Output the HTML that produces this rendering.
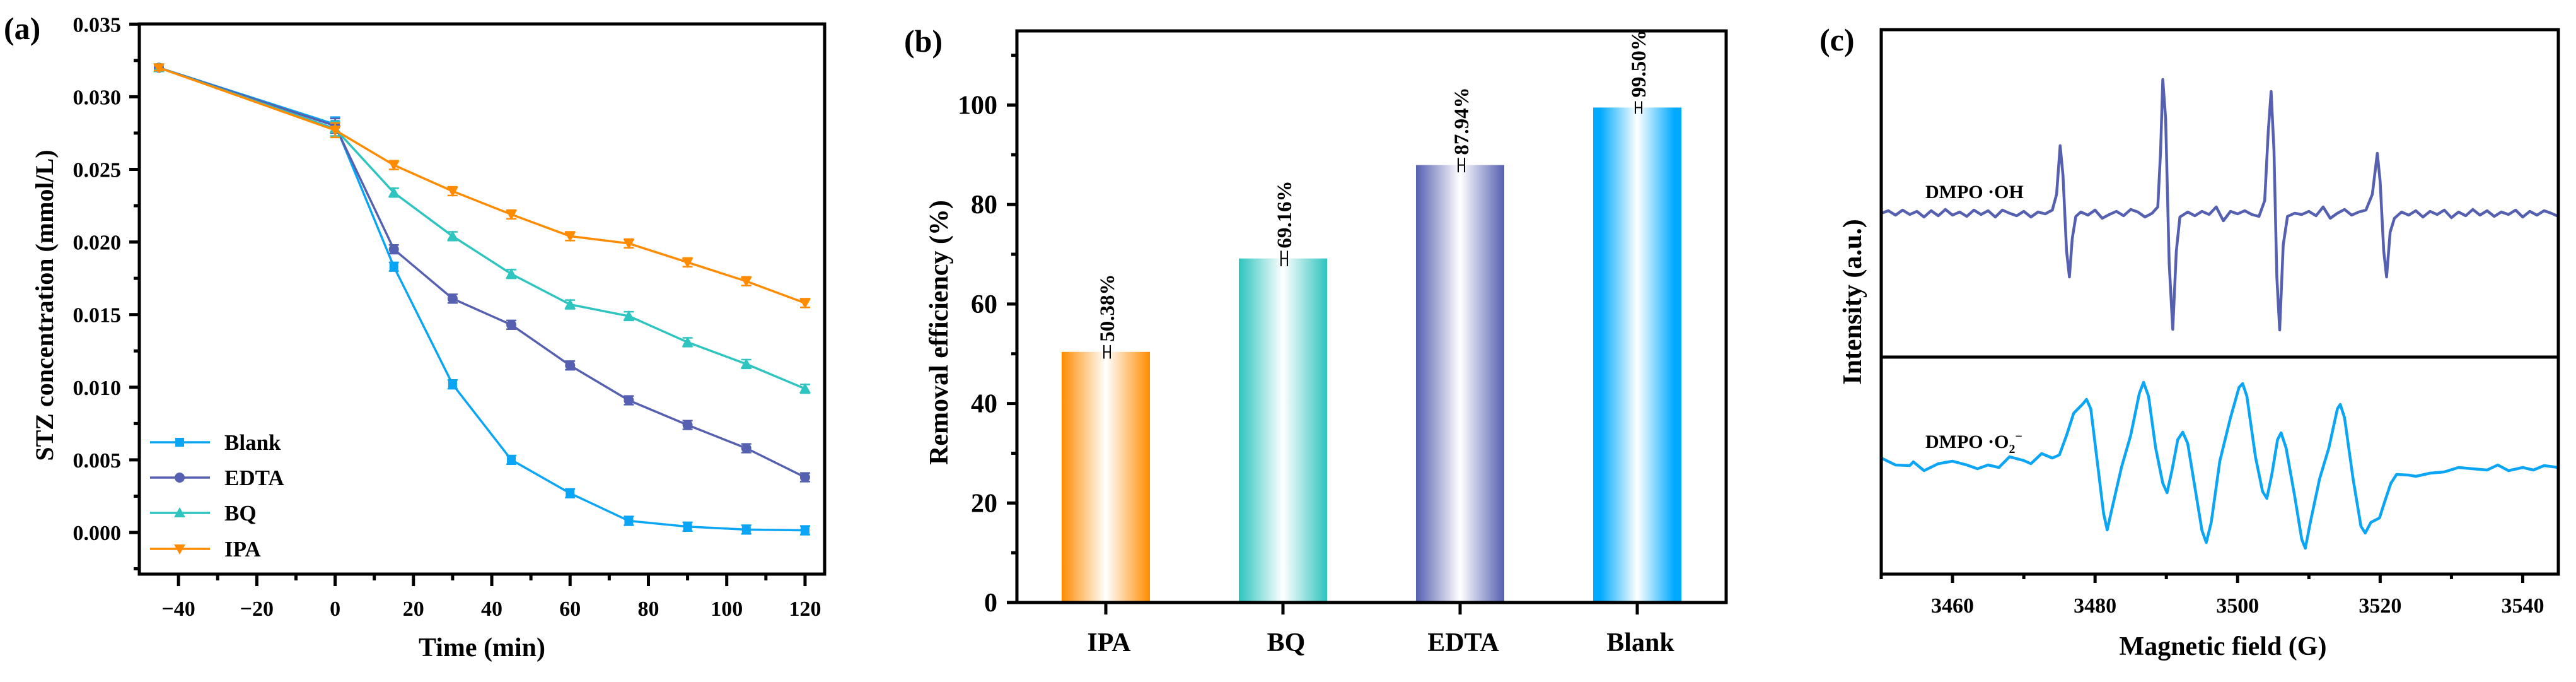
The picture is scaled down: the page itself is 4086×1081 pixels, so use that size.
<!DOCTYPE html>
<html><head><meta charset="utf-8">
<style>
html,body{margin:0;padding:0;background:#fff;}
svg{display:block;font-family:"Liberation Serif","Times New Roman",serif;font-weight:bold;}
</style></head>
<body>
<svg id="fig" width="4086" height="1081" viewBox="0 0 4086 1081" xmlns="http://www.w3.org/2000/svg">
<defs>
<linearGradient id="gIPA" x1="0" x2="1" y1="0" y2="0"><stop offset="0" stop-color="#FF8C00"/><stop offset="0.5" stop-color="#ffffff"/><stop offset="1" stop-color="#FF8C00"/></linearGradient>
<linearGradient id="gBQ" x1="0" x2="1" y1="0" y2="0"><stop offset="0" stop-color="#2EC4BF"/><stop offset="0.5" stop-color="#ffffff"/><stop offset="1" stop-color="#2EC4BF"/></linearGradient>
<linearGradient id="gEDTA" x1="0" x2="1" y1="0" y2="0"><stop offset="0" stop-color="#5560B0"/><stop offset="0.5" stop-color="#ffffff"/><stop offset="1" stop-color="#5560B0"/></linearGradient>
<linearGradient id="gBlank" x1="0" x2="1" y1="0" y2="0"><stop offset="0" stop-color="#00AAFF"/><stop offset="0.08" stop-color="#00AAFF"/><stop offset="0.5" stop-color="#ffffff"/><stop offset="0.92" stop-color="#00AAFF"/><stop offset="1" stop-color="#00AAFF"/></linearGradient>
</defs>
<g id="pa"></g>
<g id="pb"></g>
<g id="pc"></g>
</svg>
<script>
// ---------- Panel (a) data ----------
const timeA = [-45, 0, 15, 30, 45, 60, 75, 90, 105, 120];
const blankA = [0.0320, 0.0281, 0.0183, 0.0102, 0.0050, 0.0027, 0.0008, 0.0004, 0.0002, 0.00015];
const edtaA = [0.0320, 0.0280, 0.0195, 0.0161, 0.0143, 0.0115, 0.0091, 0.0074, 0.0058, 0.0038];
const bqA = [0.0320, 0.0278, 0.0234, 0.0204, 0.0178, 0.0157, 0.0149, 0.0131, 0.0116, 0.0099];
const ipaA = [0.0320, 0.0277, 0.0253, 0.0235, 0.0219, 0.0204, 0.0199, 0.0186, 0.0173, 0.0158];
const errA = [0.0002, 0.0005, 0.0003, 0.0003, 0.0003, 0.0003, 0.0003, 0.0003, 0.0003, 0.0003];
const yTicksA = [0.000, 0.005, 0.010, 0.015, 0.020, 0.025, 0.030, 0.035];
const yTickLabelsA = ["0.000","0.005","0.010","0.015","0.020","0.025","0.030","0.035"];
const xTicksA = [-40, -20, 0, 20, 40, 60, 80, 100, 120];
const xTickLabelsA = ["\u221240","\u221220","0","20","40","60","80","100","120"];
const seriesNamesA = ["Blank","EDTA","BQ","IPA"];

// ---------- Panel (b) data ----------
const catsB = ["IPA","BQ","EDTA","Blank"];
const valsB = [50.38, 69.16, 87.94, 99.50];
const labelsB = ["50.38%","69.16%","87.94%","99.50%"];
const errB = [0.6, 0.8, 0.7, 0.5];
const yTicksB = [0, 20, 40, 60, 80, 100];

// ---------- Panel (c) data ----------
const xTicksC = [3460, 3480, 3500, 3520, 3540];
const ohField = [3450,3451,3452,3453,3454,3455,3456,3457,3458,3459,3460,3461,3462,3463,3464,3465,3466,3467,3468,3469,3470,3471,3472,3473,3474,3474.6,3475.1,3475.5,3476.0,3476.4,3476.8,3477.3,3478,3479,3480,3481,3482,3483,3484,3485,3486,3487,3488,3488.8,3489.2,3489.5,3489.9,3490.4,3490.9,3491.4,3491.9,3493,3494,3495,3496,3497,3498,3499,3500,3501,3502,3503,3503.8,3504.3,3504.7,3505.1,3505.5,3505.9,3506.4,3507,3508,3509,3510,3511,3512,3513,3514,3515,3516,3517,3518,3518.9,3519.6,3520.0,3520.5,3520.9,3521.4,3522,3523,3524,3525,3526,3527,3528,3529,3530,3531,3532,3533,3534,3535,3536,3537,3538,3539,3540,3541,3542,3543,3544,3545];
const ohInt = [0,4,-3,5,-2,3,-6,4,-4,6,-3,2,-5,5,-2,4,-6,5,0,-4,3,-6,2,-1,5,30,107,60,-60,-101,-40,-5,2,-3,5,-8,-2,3,-4,6,2,-6,0,10,100,212,150,-80,-184,-60,-6,2,-4,3,-2,10,-12,3,-1,4,-2,-5,20,130,193,100,-100,-185,-50,-5,0,-2,3,-4,10,-8,0,6,-3,2,5,30,95,50,-60,-101,-30,-8,2,-3,4,-6,3,-2,5,-7,2,-4,6,-3,4,-5,2,-2,5,-6,3,-3,4,0,-5,3,0];
const o2Field = [3450,3452,3454,3454.5,3456,3458,3460,3462,3463.5,3465,3466.5,3468,3470,3471,3472.5,3474,3475,3476,3477,3478.3,3478.8,3479.4,3480.3,3481.2,3481.7,3482.5,3483.7,3485,3486.2,3486.8,3487.5,3488.5,3489.5,3490.1,3490.8,3491.6,3492.3,3493,3494,3495,3495.6,3496.3,3497.5,3499,3500.2,3500.7,3501.3,3502.5,3503.5,3504.1,3504.8,3505.6,3506.1,3506.8,3508,3509.0,3509.5,3510.2,3511.5,3512.8,3514,3514.4,3515,3516.2,3517.3,3517.9,3518.7,3519.9,3520.7,3521.5,3522.3,3524,3525,3527,3529,3531,3533,3535,3536.5,3538,3540,3541.5,3543,3545];
const o2Int = [74,63,62,68,54,65,69,63,57,63,59,76,70,65,81,74,79,110,145,160,167,152,69,-14,-40,0,59,110,176,194,172,90,34,19,55,103,115,97,28,-41,-60,-28,69,138,186,192,172,76,21,10,48,103,114,90,14,-55,-69,-28,41,90,152,159,138,41,-34,-45,-28,-21,7,34,48,47,45,50,52,59,57,55,63,54,59,55,62,59];

const NS = "http://www.w3.org/2000/svg";
function mk(parent, tag, attrs, text){
  const el = document.createElementNS(NS, tag);
  for (const k in attrs) el.setAttribute(k, attrs[k]);
  if (text !== undefined) el.textContent = text;
  parent.appendChild(el);
  return el;
}

// =================== PANEL A ===================
(function(){
  const g = document.getElementById('pa');
  const L=221, R=1308, T=38, B=910;
  const xMin=-50, xMax=125, yMin=-0.00287, yMax=0.035;
  const X = v => L + (v - xMin) / (xMax - xMin) * (R - L);
  const Y = v => 844 - v / 0.005 * 115.1;
  const colors = ["#0AA5F5","#5560B0","#2EC4BF","#FF8C00"];
  const data = [blankA, edtaA, bqA, ipaA];
  const shapes = ["square","circle","up","down"];

  function marker(par, shape, cx, cy, color, name){
    let m;
    if (shape==="square") m = mk(par,'rect',{x:cx-7,y:cy-7,width:14,height:14,fill:color});
    else if (shape==="circle") m = mk(par,'circle',{cx:cx,cy:cy,r:8,fill:color});
    else if (shape==="up") m = mk(par,'polygon',{points:`${cx},${cy-9} ${cx-9},${cy+7} ${cx+9},${cy+7}`,fill:color});
    else m = mk(par,'polygon',{points:`${cx},${cy+9} ${cx-9},${cy-7} ${cx+9},${cy-7}`,fill:color});
    
    
    return m;
  }

  for (let s=0; s<4; s++){
    const sg = mk(g,'g',{});
    
    
    const pts = timeA.map((t,i)=>X(t)+','+Y(data[s][i])).join(' ');
    const line = mk(sg,'polyline',{points:pts,fill:'none',stroke:colors[s],'stroke-width':3.5});
    
    
    timeA.forEach((t,i)=>{
      const cx=X(t), cy=Y(data[s][i]);
      const y1=Y(data[s][i]+errA[i]), y2=Y(data[s][i]-errA[i]);
      const eb = mk(sg,'path',{d:`M${cx-8},${y1}H${cx+8}M${cx},${y1}V${y2}M${cx-8},${y2}H${cx+8}`,stroke:colors[s],'stroke-width':2.5,fill:'none'});
      
      
      marker(sg, shapes[s], cx, cy, colors[s], 'point-' + seriesNamesA[s].toLowerCase());
    });
  }
  // axes frame
  const fr = mk(g,'rect',{x:L,y:T,width:R-L,height:B-T,fill:'none',stroke:'#000','stroke-width':5});
  
  
  // y ticks
  yTicksA.forEach((v,i)=>{
    mk(g,'line',{x1:L-16,x2:L,y1:Y(v),y2:Y(v),stroke:'#000','stroke-width':5});
    const t = mk(g,'text',{x:L-29,y:Y(v)+12,'text-anchor':'end','font-size':34},yTickLabelsA[i]);
    
    
  });
  for (let v=-0.0025; v<0.035; v+=0.005){
    mk(g,'line',{x1:L-9,x2:L,y1:Y(v),y2:Y(v),stroke:'#000','stroke-width':5});
  }
  xTicksA.forEach((v,i)=>{
    mk(g,'line',{x1:X(v),x2:X(v),y1:B,y2:B+19,stroke:'#000','stroke-width':5});
    const t = mk(g,'text',{x:X(v),y:976,'text-anchor':'middle','font-size':34},xTickLabelsA[i]);
    
    
  });
  for (let v=-30; v<=110; v+=20){
    mk(g,'line',{x1:X(v),x2:X(v),y1:B,y2:B+10,stroke:'#000','stroke-width':5});
  }
  const xt = mk(g,'text',{x:(L+R)/2,y:1040,'text-anchor':'middle','font-size':42},'Time (min)');
  
  
  const yt = mk(g,'text',{x:0,y:0,'text-anchor':'middle','font-size':40,transform:`translate(84,${(T+B)/2+10}) rotate(-90)`},'STZ concentration (mmol/L)');
  
  
  const pl = mk(g,'text',{x:6,y:62,'font-size':50},'(a)');
  
  
  // legend
  const lg = mk(g,'g',{});
  
  
  const legY = [701, 757, 813, 870];
  seriesNamesA.forEach((n,i)=>{
    const eg = mk(lg,'g',{});
    
    
    mk(eg,'line',{x1:238,x2:333,y1:legY[i],y2:legY[i],stroke:colors[i],'stroke-width':3.5});
    marker(eg, shapes[i], 285, legY[i], colors[i], 'legend-marker');
    mk(eg,'text',{x:356,y:legY[i]+12,'font-size':35},n);
  });
})();

// =================== PANEL B ===================
(function(){
  const g = document.getElementById('pb');
  const L=1613, R=2738, T=49, B=955;
  const Y = v => B - v * 7.885;
  const X = i => 1754 + i * 281;
  const grads = ["url(#gIPA)","url(#gBQ)","url(#gEDTA)","url(#gBlank)"];
  catsB.forEach((c,i)=>{
    const bar = mk(g,'rect',{x:X(i)-70,y:Y(valsB[i]),width:140,height:B-Y(valsB[i]),fill:grads[i]});
    
    
    const cx = X(i)+2;
    const e1 = Y(valsB[i]+errB[i]), e2 = Y(valsB[i]-errB[i]);
    const eb = mk(g,'path',{d:`M${cx-5},${e1-6}V${e2+6}M${cx-5},${Y(valsB[i])}H${cx+5}M${cx+5},${e1-6}V${e2+6}`,stroke:'#000','stroke-width':2,fill:'none'});
    
    
    const vl = mk(g,'text',{x:0,y:0,'font-size':33,transform:`translate(${X(i)+13},${Y(valsB[i])-16}) rotate(-90)`},labelsB[i]);
    
    
    mk(g,'line',{x1:X(i),x2:X(i),y1:B,y2:B+19,stroke:'#000','stroke-width':5});
    const tl = mk(g,'text',{x:X(i)+5,y:1032,'text-anchor':'middle','font-size':42},c);
    
    
  });
  const fr = mk(g,'rect',{x:L,y:T,width:R-L,height:B-T,fill:'none',stroke:'#000','stroke-width':5});
  
  
  yTicksB.forEach(v=>{
    mk(g,'line',{x1:L-16,x2:L,y1:Y(v),y2:Y(v),stroke:'#000','stroke-width':5});
    const t = mk(g,'text',{x:1582,y:Y(v)+14,'text-anchor':'end','font-size':42},String(v));
    
    
  });
  for (let v=10; v<=110; v+=20){
    mk(g,'line',{x1:L-9,x2:L,y1:Y(v),y2:Y(v),stroke:'#000','stroke-width':5});
  }
  const yt = mk(g,'text',{x:0,y:0,'text-anchor':'middle','font-size':42,transform:`translate(1503,${(T+B)/2+25}) rotate(-90)`},'Removal efficiency (%)');
  
  
  const pl = mk(g,'text',{x:1434,y:82,'font-size':50},'(b)');
  
  
})();

// =================== PANEL C ===================
(function(){
  const g = document.getElementById('pc');
  const L=2984, R=4058, T=47, M=566, B=910;
  const gMin=3450, gMax=3545;
  const X = v => L + (v - gMin) / (gMax - gMin) * (R - L);
  const Yoh = v => 338 - v;
  const Yo2 = v => 800 - v;
  const p1 = mk(g,'polyline',{points:ohField.map((f,i)=>X(f)+','+Yoh(ohInt[i])).join(' '),fill:'none',stroke:'#5560B0','stroke-width':4.5,'stroke-linejoin':'round'});
  
  
  const p2 = mk(g,'polyline',{points:o2Field.map((f,i)=>X(f)+','+Yo2(o2Int[i])).join(' '),fill:'none',stroke:'#0AA5F5','stroke-width':4.5,'stroke-linejoin':'round'});
  
  
  const fr = mk(g,'rect',{x:L,y:T,width:R-L,height:B-T,fill:'none',stroke:'#000','stroke-width':5});
  
  
  const dv = mk(g,'line',{x1:L,x2:R,y1:M,y2:M,stroke:'#000','stroke-width':5});
  
  
  xTicksC.forEach(v=>{
    mk(g,'line',{x1:X(v),x2:X(v),y1:B,y2:B+14,stroke:'#000','stroke-width':5});
    const t = mk(g,'text',{x:X(v),y:971,'text-anchor':'middle','font-size':34},String(v));
    
    
  });
  for (let v=3450; v<=3545; v+=10){
    if (xTicksC.indexOf(v) < 0) mk(g,'line',{x1:X(v),x2:X(v),y1:B,y2:B+8,stroke:'#000','stroke-width':5});
  }
  const xt = mk(g,'text',{x:(L+R)/2+5,y:1038,'text-anchor':'middle','font-size':42},'Magnetic field (G)');
  
  
  const yt = mk(g,'text',{x:0,y:0,'text-anchor':'middle','font-size':42,transform:`translate(2952,${(T+B)/2}) rotate(-90)`},'Intensity (a.u.)');
  
  
  const l1 = mk(g,'text',{x:3054,y:314,'font-size':30},'DMPO \u00b7OH');
  
  
  const l2 = mk(g,'text',{x:3054,y:710,'font-size':30});
  
  
  l2.appendChild(document.createTextNode('DMPO \u00b7O'));
  mk(l2,'tspan',{'font-size':20,dy:8},'2');
  mk(l2,'tspan',{'font-size':20,dy:-20},'\u2212');
  const pl = mk(g,'text',{x:2886,y:80,'font-size':50},'(c)');
  
  
})();
</script>
</body></html>
